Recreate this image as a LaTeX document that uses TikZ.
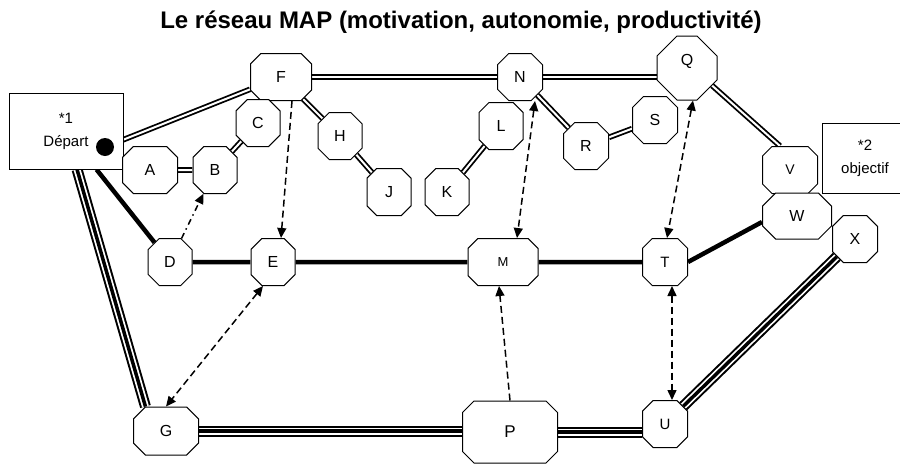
\documentclass[tikz,border=0pt]{standalone}
\usepackage{fontspec}
\setmainfont{Liberation Sans}
\usetikzlibrary{shapes.misc,arrows.meta,backgrounds}
\tikzset{
  oct/.style={chamfered rectangle, draw, fill=white, line width=1pt, inner sep=0pt,
    chamfered rectangle xsep=11pt, chamfered rectangle ysep=11pt,
    minimum width=44pt, minimum height=47pt, font=\fontsize{16}{16}\selectfont},
  infobox/.style={rectangle, draw, fill=white, line width=1pt, align=center, inner sep=0pt,
    font=\fontsize{15}{23}\selectfont},
  dbl/.style={double, line width=1.8pt, double distance=2pt},
  thk/.style={line width=4.5pt},
  trip/.style={line width=11pt, postaction={draw=white, line width=7pt},
    postaction={draw=black, line width=3.5pt}},
  arr/.style={line width=1.5pt, dash pattern=on 7pt off 4pt, -{Triangle[length=10pt,width=9pt]}},
  arrb/.style={line width=1.5pt, dash pattern=on 7pt off 4pt, {Triangle[length=10pt,width=9pt]}-{Triangle[length=10pt,width=9pt]}},
  arrdd/.style={line width=1.5pt, dash pattern=on 6pt off 4pt on 1.5pt off 4pt, -{Triangle[length=10pt,width=9pt]}},
}
\begin{document}
\begin{tikzpicture}[x=1pt,y=-1pt]
\clip (0,0) rectangle (900,464);
\node[font=\bfseries\fontsize{24}{24}\selectfont] (title) at (461,22) {Le réseau MAP (motivation, autonomie, productivité)};

\node[infobox, minimum width=114pt, minimum height=76pt] (start) at (66,131) {*1\\Départ};
\node[infobox, minimum width=86pt, minimum height=70pt] (goal) at (865,158) {*2\\objectif};
\node[circle, fill=black, inner sep=0pt, minimum size=18pt] (dot) at (105,147) {};

\node[oct, minimum width=61pt, chamfered rectangle xsep=13pt, chamfered rectangle ysep=12pt] (F) at (281,77) {F};
\node[oct] (C) at (258,123) {C};
\node[oct, minimum width=55pt] (A) at (150,170) {A};
\node[oct] (B) at (215,170) {B};
\node[oct] (D) at (170,262) {D};
\node[oct] (E) at (273,262) {E};
\node[oct] (H) at (340,136) {H};
\node[oct] (J) at (389,192) {J};
\node[oct] (L) at (501,126) {L};
\node[oct] (K) at (447,192) {K};
\node[oct, minimum width=45pt] (N) at (520,77) {N};
\node[oct, minimum width=45pt] (R) at (586,146) {R};
\node[oct, minimum width=70pt, chamfered rectangle xsep=12pt, font=\fontsize{13}{13}\selectfont] (M) at (503,262) {M};
\node[oct, minimum width=60pt, minimum height=64pt, chamfered rectangle xsep=16pt, chamfered rectangle ysep=16pt,
  text height=11.5pt, text depth=16pt] (Q) at (687,68) {Q};
\node[oct, minimum width=45pt] (S) at (655,120) {S};
\node[oct, minimum width=55pt, font=\fontsize{14}{14}\selectfont] (V) at (790,170) {V};
\node[oct, minimum width=69pt, minimum height=46pt, chamfered rectangle xsep=13pt] (W) at (797,216) {W};
\node[oct, minimum width=45pt] (X) at (855,239) {X};
\node[oct, minimum width=45pt, font=\fontsize{15}{15}\selectfont] (T) at (665,262) {T};
\node[oct, minimum width=45pt, font=\fontsize{15}{15}\selectfont] (U) at (665,424) {U};
\node[oct, minimum width=95pt, minimum height=62pt, chamfered rectangle xsep=18pt, chamfered rectangle ysep=17pt, font=\fontsize{17}{17}\selectfont] (P) at (510,432) {P};
\node[oct, minimum width=65pt, minimum height=48pt, chamfered rectangle xsep=13pt] (G) at (166,431) {G};

\begin{scope}[on background layer]
\fill[white] (0,0) rectangle (900,464);
\draw[dbl] (dot) -- (F);
\draw[dbl] (F.east) -- (F.east -| N.west);
\draw[dbl] (N.east) -- (N.east -| Q.west);
\draw[dbl] (F) -- (H);
\draw[dbl] (H) -- (J);
\draw[dbl] (A) -- (B);
\draw[dbl] (B) -- (C);
\draw[dbl] (L) -- (K);
\draw[dbl] (N) -- (R);
\draw[dbl] (R) -- (S);
\draw[dbl] (Q.-35) -- ([xshift=-10pt]V.north);
\draw[thk] (start) -- (D);
\draw[thk] (D) -- (E);
\draw[thk] (E) -- (M);
\draw[thk] (M) -- (T);
\draw[thk] (T.east) -- ([yshift=-6pt]W.west);
\draw[trip] (start) -- (G.130);
\draw[trip] (G.east) -- (G.east -| P.west);
\draw[trip] (P.east) -- (P.east -| U.west);
\draw[trip] (U) -- (X);
\end{scope}

\draw[arrdd] (D) -- (B);
\draw[arr] ([xshift=11pt]F.south) -- ([xshift=8pt]E.north);
\draw[arrb] ([xshift=-10pt]E.south) -- (G.north);
\draw[arrb] ([xshift=15pt]N.south) -- ([xshift=14pt]M.north);
\draw[arrb] ([xshift=6pt]Q.south) -- ([xshift=2pt]T.north);
\draw[arr] (P.north) -- ([xshift=-4pt]M.south);
\draw[arrb] ([xshift=7pt]T.south) -- ([xshift=7pt]U.north);
\end{tikzpicture}
\end{document}
